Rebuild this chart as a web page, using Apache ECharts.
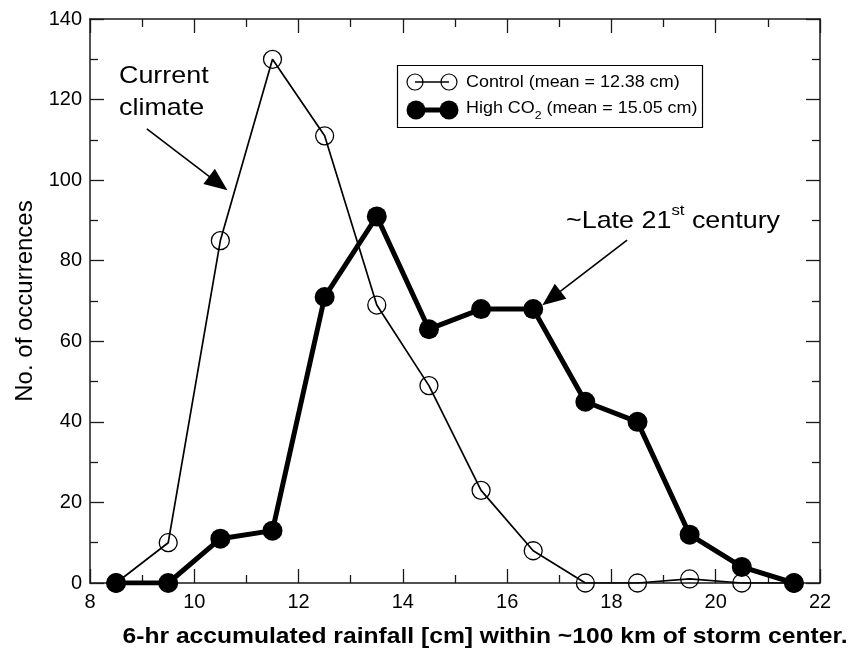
<!DOCTYPE html>
<html>
<head>
<meta charset="utf-8">
<script src="https://cdn.jsdelivr.net/npm/echarts@6/dist/echarts.min.js"></script>
<style>
  html, body { margin: 0; padding: 0; background: #fff; }
  #chart { width: 865px; height: 649px; }
</style>
</head>
<body>
<div id="chart"></div>
<script>
// Bin centres of 6-hr accumulated rainfall (cm)
const rainfallBins = [8.5, 9.5, 10.5, 11.5, 12.5, 13.5, 14.5, 15.5, 16.5, 17.5, 18.5, 19.5, 20.5, 21.5];
// Occurrence counts per bin
const controlCounts = [0, 10, 85, 130, 111, 69, 49, 23, 8, 0, 0, 1, 0, 0];
const highCO2Counts = [0, 0, 11, 13, 71, 91, 63, 68, 68, 45, 40, 12, 4, 0];

const xTicks = [8, 10, 12, 14, 16, 18, 20, 22];
const yTicks = [0, 20, 40, 60, 80, 100, 120, 140];

const FONT = '"Liberation Sans", Arial, Helvetica, sans-serif';
const WIDE = 1.12; // horizontal stretch applied to annotation text

const chart = echarts.init(document.getElementById('chart'), null, { renderer: 'canvas' });

function pairs(xs, ys) { return xs.map((x, i) => [x, ys[i]]); }

const axisLineStyle = { color: '#1a1a1a', width: 1.5 };
const tickStyle = { color: '#1a1a1a', width: 1.3 };

function xAxisDef(pos, showLabels) {
  return {
    type: 'value', position: pos,
    min: xTicks[0], max: xTicks[xTicks.length - 1], interval: 2,
    axisLine: { show: true, onZero: false, lineStyle: axisLineStyle },
    axisTick: { show: true, inside: true, length: 14, lineStyle: tickStyle },
    minorTick: { show: true, splitNumber: 2, length: 8, lineStyle: tickStyle },
    splitLine: { show: false },
    axisLabel: { show: showLabels, color: '#000', fontFamily: FONT, fontSize: 20, margin: 9 }
  };
}
function yAxisDef(pos, showLabels) {
  return {
    type: 'value', position: pos,
    min: yTicks[0], max: yTicks[yTicks.length - 1], interval: 20,
    axisLine: { show: true, onZero: false, lineStyle: axisLineStyle },
    axisTick: { show: true, inside: true, length: 14, lineStyle: tickStyle },
    minorTick: { show: true, splitNumber: 2, length: 8, lineStyle: tickStyle },
    splitLine: { show: false },
    axisLabel: { show: showLabels, color: '#000', fontFamily: FONT, fontSize: 20, margin: 8 }
  };
}

const arrowStyle = { color: '#000', width: 1.6, type: 'solid' };

const option = {
  animation: false,
  backgroundColor: '#fff',
  grid: { left: 90, right: 45, top: 19, bottom: 66, containLabel: false, outerBoundsMode: 'none' },
  xAxis: [xAxisDef('bottom', true), xAxisDef('top', false)],
  yAxis: [
    Object.assign(yAxisDef('left', true), {
      name: 'No. of occurrences',
      nameLocation: 'middle', nameGap: 48,
      nameTextStyle: { color: '#000', fontFamily: FONT, fontSize: 24 }
    }),
    yAxisDef('right', false)
  ],
  series: [
    {
      name: 'Control',
      type: 'line',
      xAxisIndex: 0, yAxisIndex: 0,
      data: pairs(rainfallBins, controlCounts),
      symbol: 'circle', symbolSize: 18,
      itemStyle: { color: 'rgba(255,255,255,0)', borderColor: '#000', borderWidth: 1.3 },
      lineStyle: { color: '#000', width: 1.7 },
      z: 2,
      markLine: {
        silent: true, animation: false,
        symbol: ['none', 'triangle'], symbolSize: [19, 23],
        label: { show: false },
        lineStyle: arrowStyle,
        data: [[{ coord: [9.09, 112.7] }, { coord: [10.46, 99.2] }]]
      }
    },
    {
      name: 'High CO2',
      type: 'line',
      xAxisIndex: 0, yAxisIndex: 0,
      data: pairs(rainfallBins, highCO2Counts),
      symbol: 'circle', symbolSize: 20,
      itemStyle: { color: '#000', borderColor: '#000', borderWidth: 0 },
      lineStyle: { color: '#000', width: 5 },
      z: 3,
      markLine: {
        silent: true, animation: false,
        symbol: ['none', 'triangle'], symbolSize: [19, 23],
        label: { show: false },
        lineStyle: arrowStyle,
        data: [[{ coord: [18.30, 85.1] }, { coord: [16.85, 70.7] }]]
      }
    }
  ],
  graphic: [
    // x-axis title
    {
      type: 'text', x: 485, y: 637, scaleX: WIDE, z: 10,
      style: {
        text: '6-hr accumulated rainfall [cm] within ~100 km of storm center.',
        fill: '#000', font: 'bold 22px ' + FONT, textAlign: 'center', textVerticalAlign: 'middle'
      }
    },
    // annotation: current climate
    {
      type: 'text', x: 119, y: 60, scaleX: WIDE, z: 10,
      style: { text: 'Current\nclimate', fill: '#000', font: '24px ' + FONT, lineHeight: 32 }
    },
    // annotation: late 21st century
    {
      type: 'text', x: 566, y: 203, scaleX: WIDE, z: 10,
      style: {
        text: '{n|~Late 21}{s|st}{n| century}',
        rich: {
          n: { fill: '#000', font: '24px ' + FONT, verticalAlign: 'bottom', lineHeight: 30 },
          s: { fill: '#000', font: '15px ' + FONT, verticalAlign: 'top', lineHeight: 30, padding: [0, 0, 10, 0] }
        }
      }
    },
    // legend box
    {
      type: 'rect', z: 10,
      shape: { x: 397.5, y: 65.5, width: 305, height: 62 },
      style: { fill: '#fff', stroke: '#000', lineWidth: 1.2 }
    },
    { type: 'line', z: 11, shape: { x1: 415, y1: 82, x2: 449, y2: 82 }, style: { stroke: '#000', lineWidth: 1.5 } },
    { type: 'circle', z: 12, shape: { cx: 415, cy: 82, r: 8 }, style: { fill: 'none', stroke: '#000', lineWidth: 1.2 } },
    { type: 'circle', z: 12, shape: { cx: 449, cy: 82, r: 8 }, style: { fill: 'none', stroke: '#000', lineWidth: 1.2 } },
    {
      type: 'text', x: 466, y: 83, scaleX: WIDE, z: 12,
      style: { text: 'Control (mean = 12.38 cm)', fill: '#000', font: '16px ' + FONT, textVerticalAlign: 'middle' }
    },
    { type: 'line', z: 11, shape: { x1: 415, y1: 110, x2: 449, y2: 110 }, style: { stroke: '#000', lineWidth: 5 } },
    { type: 'circle', z: 12, shape: { cx: 416, cy: 110, r: 9.5 }, style: { fill: '#000' } },
    { type: 'circle', z: 12, shape: { cx: 449, cy: 110, r: 9.5 }, style: { fill: '#000' } },
    {
      type: 'text', x: 466, y: 101, scaleX: WIDE, z: 12,
      style: {
        text: '{n|High CO}{b|2}{n| (mean = 15.05 cm)}',
        rich: {
          n: { fill: '#000', font: '16px ' + FONT, lineHeight: 20, verticalAlign: 'top' },
          b: { fill: '#000', font: '11px ' + FONT, lineHeight: 20, verticalAlign: 'bottom', padding: [7, 0, 0, 0] }
        }
      }
    }
  ]
};

chart.setOption(option);
</script>
</body>
</html>
